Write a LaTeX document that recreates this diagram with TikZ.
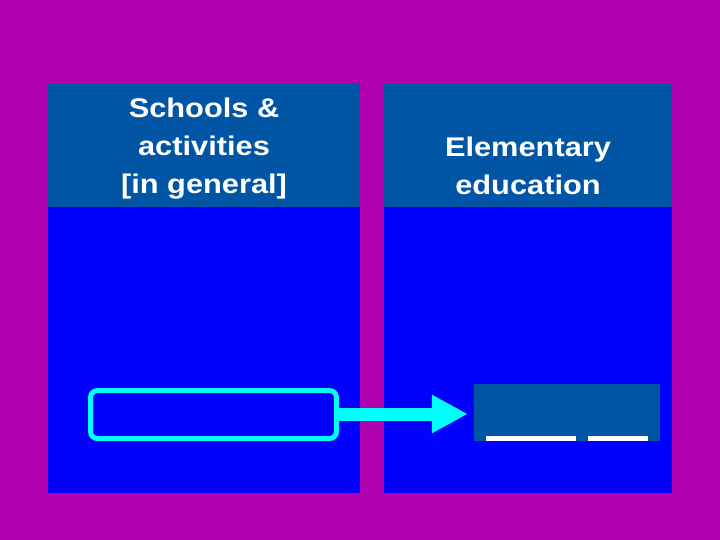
\documentclass[tikz,border=0pt]{standalone}
\usepackage{fontspec}
\setmainfont{Liberation Sans}
\usetikzlibrary{arrows.meta}
\definecolor{bgmag}{HTML}{B000B0}
\definecolor{hdr}{HTML}{0055A5}
\definecolor{bodyblue}{HTML}{0000FF}
\definecolor{cyanline}{HTML}{00FFFF}
\tikzset{
  hdrtext/.style={anchor=base, text=white, font=\bfseries\fontsize{27}{38}\selectfont, inner sep=0pt, xscale=1.14, transform shape},
  panelbody/.style={fill=bodyblue, draw=none},
  panelhead/.style={fill=hdr, draw=none},
}
\begin{document}
\begin{tikzpicture}[x=1pt,y=-1pt]
\fill[bgmag] (0,0) rectangle (720,540);
\useasboundingbox (0,0) rectangle (720,540);
% left panel
\path[panelbody] (48,84) rectangle (360,493);
\path[panelhead] (48,84) rectangle (360,207);
% right panel
\path[panelbody] (384,84) rectangle (672,493);
\path[panelhead] (384,84) rectangle (672,207);
% header texts
\node[hdrtext] (l1) at (204,118) {Schools \&};
\node[hdrtext] (l2) at (204,156) {activities};
\node[hdrtext] (l3) at (204,194) {[in general]};
\node[hdrtext] (r1) at (528,157) {Elementary};
\node[hdrtext] (r2) at (528,195) {education};
% rounded box
\node[draw=cyanline, line width=5pt, rounded corners=7pt, minimum width=246pt, minimum height=48pt, inner sep=0pt] (src) at (213.5,414.5) {};
% target box
\node[fill=hdr, minimum width=186pt, minimum height=57pt, inner sep=0pt] (dst) at (567,412.5) {};
\coordinate (w1a) at (486,438);
\coordinate (w1b) at (576,438);
\coordinate (w2a) at (588,438);
\coordinate (w2b) at (648,438);
\draw[white, line width=5pt] (w1a) -- (w1b);
\draw[white, line width=5pt] (w2a) -- (w2b);
% arrow
\draw[cyanline, line width=13pt, -{Triangle[length=36pt,width=36pt]}, shorten >=6pt] (src.east |- 0,414) -- (dst.west |- 0,414);
\end{tikzpicture}
\end{document}
